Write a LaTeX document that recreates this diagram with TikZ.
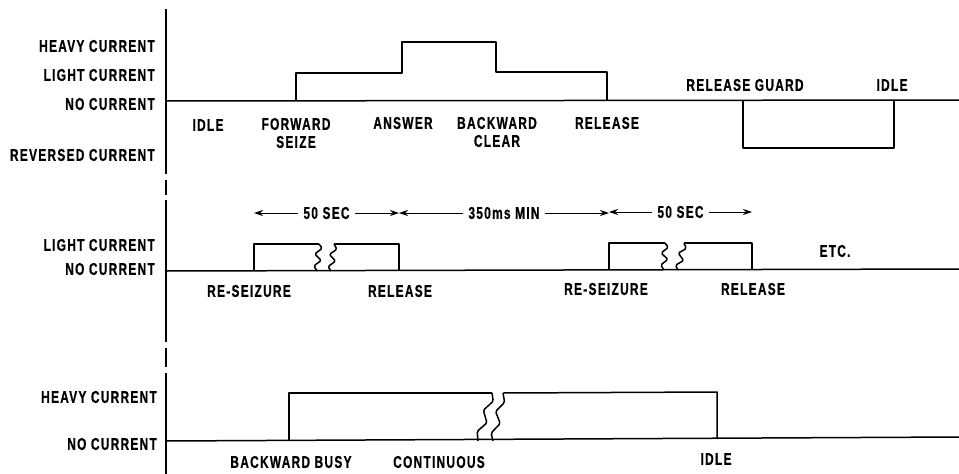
\documentclass[tikz,border=0pt]{standalone}
\usepackage{fontspec}
\newfontfamily\labfont{Liberation Sans}[FakeStretch=0.7,LetterSpace=7.5,FakeBold=0.6]
\usetikzlibrary{arrows.meta,calc}
\tikzset{
  lab/.style={font=\labfont\bfseries\fontsize{17}{18}\selectfont, inner sep=0pt, align=center},
  leftlab/.style={lab, anchor=east},
  wave/.style={line width=1.5pt, line join=round},
  axisline/.style={line width=1.6pt},
  dim/.style={line width=1pt, {Stealth[length=9pt,width=6pt]}-{Stealth[length=9pt,width=6pt]}},
  dimtext/.style={lab, fill=white, inner xsep=5pt, inner ysep=2pt}
}
\newcommand\squig[2]{\draw[wave, rounded corners=1.5pt] (#1)
  -- ($(#1)!0.15!(#2)!3.5pt!90:(#2)$)
  -- ($(#1)!0.38!(#2)!3.5pt!-90:(#2)$)
  -- ($(#1)!0.6!(#2)!3.5pt!90:(#2)$)
  -- ($(#1)!0.82!(#2)!3.5pt!-90:(#2)$)
  -- (#2);}
\begin{document}
\begin{tikzpicture}[x=1pt,y=-1pt]
\useasboundingbox (0,0) rectangle (959,474);
% vertical axis (broken)
\draw[axisline] (166,9) -- (166,174);
\draw[axisline] (166,180) -- (166,195);
\draw[axisline] (166,200) -- (166,342);
\draw[axisline] (166,348) -- (166,367);
\draw[axisline] (166,373) -- (166,474);

% ---------- panel 1 ----------
\node[leftlab] (h1) at (155,46) {HEAVY CURRENT};
\node[leftlab] (l1) at (155,75) {LIGHT CURRENT};
\node[leftlab] (n1) at (155,104) {NO CURRENT};
\node[leftlab] (r1) at (155,155) {REVERSED CURRENT};
\draw[wave] (166,101) -- (959,100);
\draw[wave] (296,101) |- (402,73) |- (496,42) |- (607,72) -- (607,101);
\draw[wave] (743,101) |- (894,148) -- (894,101);
\node[lab] (idle1) at (208,125) {IDLE};
\node[lab] (fs) at (296,133) {FORWARD\\SEIZE};
\node[lab] (ans) at (403,123) {ANSWER};
\node[lab] (bc) at (497,132) {BACKWARD\\CLEAR};
\node[lab] (rel1) at (607,123) {RELEASE};
\node[lab] (rg) at (745,85) {RELEASE GUARD};
\node[lab] (idle2) at (892,85) {IDLE};

% ---------- panel 2 ----------
\node[leftlab] (l2) at (155,245) {LIGHT CURRENT};
\node[leftlab] (n2) at (155,269) {NO CURRENT};
\draw[wave] (166,271) -- (959,269);
\draw[wave] (254,271) |- (319,244);
\squig{319,244}{317,271}
\squig{331,271}{334,244}
\draw[wave] (334,244) -| (399,271);
\draw[wave] (609,270) |- (665,243);
\squig{665,243}{664,270}
\squig{678,270}{684,243}
\draw[wave] (684,243) -| (752,270);
\draw[dim] (254,213) -- node[dimtext] (d1) {50 SEC} (399,213);
\draw[dim] (399,213) -- node[dimtext] (d2) {350ms MIN} (609,213);
\draw[dim] (609,212) -- node[dimtext] (d3) {50 SEC} (752,212);
\node[lab] (rs1) at (249,291) {RE-SEIZURE};
\node[lab] (rel2) at (400,291) {RELEASE};
\node[lab] (rs2) at (606,289) {RE-SEIZURE};
\node[lab] (rel3) at (753,289) {RELEASE};
\node[lab] (etc) at (835,251) {ETC.};

% ---------- panel 3 ----------
\node[leftlab] (h3) at (157,397) {HEAVY CURRENT};
\node[leftlab] (n3) at (157,444) {NO CURRENT};
\draw[wave] (166,441) -- (959,437);
\draw[wave] (289,441) |- (492,393);
\squig{492,393}{478,441}
\squig{493,441}{503,393}
\draw[wave] (503,393) -- (717,392) -- (717,439);
\node[lab] (bb) at (291,462) {BACKWARD BUSY};
\node[lab] (cont) at (439,462) {CONTINUOUS};
\node[lab] (idle3) at (716,459) {IDLE};
\end{tikzpicture}
\end{document}
